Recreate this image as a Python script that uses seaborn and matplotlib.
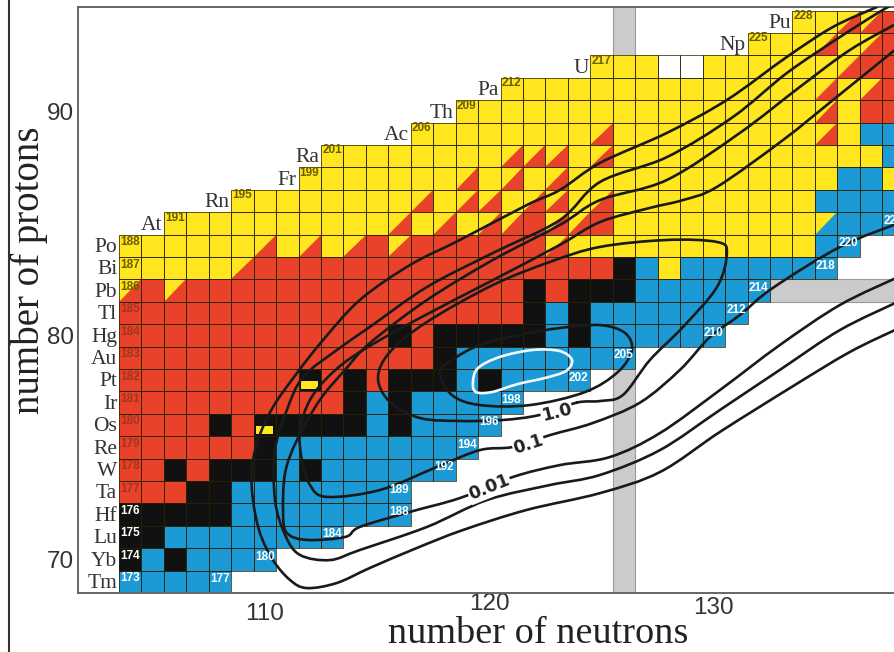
import numpy as np
import pandas as pd
import matplotlib
matplotlib.use("Agg")
import matplotlib.pyplot as plt
from matplotlib.colors import ListedColormap
from matplotlib.patches import Polygon, Rectangle, PathPatch
from matplotlib.collections import PatchCollection
from matplotlib.path import Path
from matplotlib.lines import Line2D
import matplotlib.transforms as mtransforms
import seaborn as sns

sns.set_theme(style="white")
plt.rcParams["font.family"] = ["DejaVu Sans"]

# ---------------------------------------------------------------- nuclide chart
# decay-mode codes, one character per isotope starting at the lightest one:
# y alpha, r beta+/EC, k stable, b beta-, w unknown,
# t alpha + beta+ (split cell), s alpha + beta- (split cell), j stable/long-lived alpha
element_symbols = ["Tm", "Yb", "Lu", "Hf", "Ta", "W", "Re", "Os", "Ir", "Pt", "Au", "Hg", "Tl",
                   "Pb", "Bi", "Po", "At", "Rn", "Fr", "Ra", "Ac", "Th", "Pa", "U", "Np", "Pu"]
proton_numbers = list(range(69, 95))
first_mass = [173, 174, 175, 176, 177, 178, 179, 180, 181, 182, 183, 184, 185,
              186, 187, 188, 191, 195, 199, 201, 206, 209, 212, 217, 225, 228]
row_modes = [
    "bbbbb",                                   # Tm
    "kbkbbbb",                                 # Yb
    "kkbbbbbbbb",                              # Lu
    "kkkkkbbbbbbbb",                           # Hf
    "rrrkkbbbbbbbb",                           # Ta
    "rrkrkkkbkbbbbbb",                         # W
    "rrrrrrkbbbbbbbbb",                        # Re
    "rrrrkrjkkkkbkbbbb",                       # Os
    "rrrrrrrrrrkbkbbbbb",                      # Ir
    "rrrrrrrrjrkrkkkbkbbbb",                   # Pt
    "rrrrrrrrrrrrrrkbbbbbbbb",                 # Au
    "rrrrrrrrrrrrkrkkkkkbkbbbbbb",             # Hg
    "rrrrrrrrrrrrrrrrrrkbkbbbbbbb",            # Tl
    "trtrrrrrrrrrrrrrrrkrkkkbbbbbb",           # Pb
    "yyyyytrrrrrrrrrrrrrrrrkbybbbbbbb",        # Bi
    "yyyyyytytytrtrrrrrrtyyyyyyyyyyybb",       # Po
    "yyyyyyyyyytytyttrttryyyyyyyyysbbb",       # At
    "yyyyyyyytyttyttytyyyyyyyyybbbb",          # Rn
    "yyyyyyytytytyyyyyyyyyyyybbyy",            # Fr
    "yyyyyyyytttytyyyyyyyyyyyyby",             # Ra
    "yyyyyyyytyyyyyyyyytybb",                  # Ac
    "yyyyyyyyyyyyyyyytyrr",                    # Th
    "yyyyyyyyyyyyyytytr",                      # Pa
    "yyywwyyyyyytrr",                          # U
    "yyytytr",                                 # Np
    "yyttr",                                   # Pu
]
# heaviest known isotopes on the neutron-rich side
last_Z = [69, 70, 71, 72, 73, 74, 75, 76, 77, 78, 79, 80, 81, 82, 83, 84, 85]
last_mass = [177, 180, 184, 188, 189, 192, 194, 196, 198, 202, 205, 210, 212, 214, 218, 220, 223]

# ------------------------------------------------------ cross-section contours
# (neutron number, proton number) along each line
contour_white_N = [119.27, 119.49, 120.47, 121.94, 123.14, 123.68, 123.41, 122.48, 121.27, 120.11, 119.40]
contour_white_Z = [77.92, 78.54, 79.04, 79.35, 79.30, 78.90, 78.41, 78.10, 77.83, 77.47, 77.47]

contour_10_N = [117.80, 118.33, 119.58, 121.81, 124.26, 125.73, 126.35, 126.04, 124.93, 123.14, 121.36, 119.58, 118.47]
contour_10_Z = [78.37, 77.34, 76.89, 76.89, 77.47, 78.37, 79.35, 80.11, 80.46, 80.33, 80.02, 79.57, 78.99]

contour_1_N = [123.90, 124.93, 125.95, 127.15, 128.62, 130.14, 130.58, 130.14, 127.91, 124.93, 122.70,
               120.16, 117.22, 115.57, 115.04, 115.57, 116.91, 118.69, 120.56, 122.25]
contour_1_Z = [77.00, 77.07, 77.34, 78.90, 80.37, 82.16, 83.68, 84.17, 84.26, 83.95, 83.28,
               82.25, 80.60, 79.26, 78.10, 77.03, 76.31, 76.18, 76.22, 76.45]

contour_01_N = [138.2, 135.62, 132.63, 131.16, 129.83, 128.49, 126.71, 124.61, 122.70, 121.05, 119.58,
                117.67, 115.13, 112.76, 112.01, 111.65, 111.56, 112.01, 112.90, 114.23, 116.91,
                120.16, 123.14, 124.93, 127.15, 128.62, 130.14, 133.08, 135.31, 138.2]
contour_01_Z = [85.0, 83.95, 82.12, 80.91, 79.93, 78.46, 77.00, 76.09, 75.55, 75.02, 74.88,
                74.13, 73.10, 72.79, 73.32, 74.44, 75.78, 77.12, 78.23, 79.26, 80.78,
                82.47, 84.04, 85.06, 85.69, 86.04, 86.63, 88.72, 90.51, 92.85]

contour_001_N = [138.2, 135.62, 132.94, 130.27, 127.60, 125.37, 123.14, 121.05, 118.69, 116.46, 114.23,
                 113.57, 111.87, 110.98, 110.81, 110.90, 111.43, 112.45, 113.57, 114.68, 117.22,
                 120.16, 123.14, 124.93, 127.91, 131.16, 133.83, 136.06, 138.2]
contour_001_Z = [82.6, 81.36, 79.57, 77.56, 75.64, 74.57, 74.21, 73.68, 72.74, 72.12, 71.45,
                 71.00, 70.87, 71.18, 72.07, 73.86, 75.33, 77.12, 78.46, 79.66, 81.58,
                 83.37, 84.93, 86.04, 86.94, 89.04, 91.09, 92.74, 93.95]

contour_0001_N = [138.2, 135.62, 132.94, 130.27, 127.60, 124.93, 122.70, 119.89, 117.22, 114.23, 112.90,
                  111.56, 110.90, 110.45, 110.45, 110.98, 111.70, 113.21, 114.68, 117.22, 120.16,
                  123.14, 124.93, 127.91, 130.85, 133.25, 135.62, 137.53, 138.2]
contour_0001_Z = [81.5, 80.24, 78.46, 76.67, 74.88, 73.77, 73.32, 72.65, 71.45, 70.42, 69.97,
                  70.20, 71.09, 72.65, 74.88, 76.67, 78.14, 79.35, 80.38, 82.16, 83.68,
                  85.15, 86.85, 87.96, 89.75, 91.71, 93.32, 94.53, 94.85]

contour_00001_N = [138.2, 136.06, 133.39, 130.27, 127.60, 124.93, 121.67, 118.82, 116.77, 114.68, 113.21,
                   111.87, 111.12, 110.36, 109.78, 109.47, 109.42, 109.69, 110.36, 111.43, 112.59,
                   114.23, 116.46, 118.69, 121.67, 123.14, 124.93, 127.91, 130.58, 133.25, 135.31, 137.27]
contour_00001_Z = [80.3, 79.26, 77.65, 75.69, 73.90, 72.96, 72.21, 71.31, 70.51, 69.62, 68.95,
                   68.72, 69.08, 69.97, 71.18, 72.65, 73.99, 75.33, 76.80, 78.32, 79.79,
                   81.58, 83.14, 84.26, 85.82, 86.49, 87.70, 89.04, 90.51, 92.43, 93.77, 94.66]

contour_labels = ["1.0", "0.1", "0.01"]
contour_label_N = [123.0, 121.75, 120.0]
contour_label_Z = [76.55, 75.12, 73.2]
contour_label_angle = [14, 18, 22]

# ---------------------------------------------------------------- colours
YELLOW = "#ffe61e"
RED = "#e8432a"
BLACK = "#111111"
BLUE = "#1c9ad6"
GRAY = "#cbcbcb"
mode_value = {"y": 0, "t": 0, "s": 0, "r": 1, "k": 2, "j": 2, "b": 3, "w": 4}
cmap = ListedColormap([YELLOW, RED, BLACK, BLUE, "#ffffff"])

N_MIN, N_MAX = 104, 138

grid = pd.DataFrame(np.nan, index=proton_numbers, columns=range(N_MIN, N_MAX + 1))
for Z, A0, modes in zip(proton_numbers, first_mass, row_modes):
    N0 = A0 - Z
    for i, m in enumerate(modes):
        grid.loc[Z, N0 + i] = mode_value[m]


def to_xy(N, Z):
    return np.asarray(N) - N_MIN + 0.5, np.asarray(Z) - proton_numbers[0] + 0.5


fig = plt.figure(figsize=(8.95, 6.52), dpi=100)
ax = fig.add_axes([78 / 895, 59 / 652, 817 / 895, 586 / 652])

# magic-number bands N = 126 and Z = 82 under the cells
x126, _ = to_xy(126, 82)
ax.add_patch(Rectangle((x126 - 0.5, -1), 1, 40, facecolor=GRAY, edgecolor="#9a9a9a",
                       lw=0.8, zorder=0.2))
xb, y82 = to_xy(133, 82)
ax.add_patch(Rectangle((xb - 0.5, y82 - 0.5), 20, 1, facecolor=GRAY, edgecolor="#9a9a9a",
                       lw=0.8, zorder=0.2))

sns.heatmap(grid, ax=ax, cmap=cmap, vmin=-0.5, vmax=4.5, cbar=False, mask=grid.isna(),
            linewidths=0, xticklabels=False, yticklabels=False)

# split and marked cells, then the cell outlines
line_rgba = (0.16, 0.13, 0.02, 0.75)
outlines = []
for Z, A0, modes in zip(proton_numbers, first_mass, row_modes):
    N0 = A0 - Z
    for i, m in enumerate(modes):
        x0, y0 = N0 + i - N_MIN, Z - proton_numbers[0]
        outlines.append(Rectangle((x0, y0), 1, 1))
        if m in "ts":
            ax.add_patch(Polygon([(x0, y0), (x0 + 1, y0), (x0 + 1, y0 + 1)], closed=True,
                                 facecolor=RED if m == "t" else BLUE, edgecolor="none", zorder=2))
        elif m == "j":
            ax.add_patch(Rectangle((x0 + 0.12, y0 + 0.12), 0.76, 0.34, facecolor=YELLOW,
                                   edgecolor="none", zorder=2))
ax.add_collection(PatchCollection(outlines, facecolor="none", edgecolor=line_rgba,
                                  linewidth=0.7, zorder=2.1))


def smooth_path(xs, ys, closed=False):
    P = np.column_stack([xs, ys])
    if closed:
        Q = np.vstack([P[-1], P, P[0], P[1]])
    else:
        Q = np.vstack([P[0], P, P[-1]])
    verts, codes = [Q[1]], [Path.MOVETO]
    for i in range(1, len(Q) - 2):
        p0, p1, p2, p3 = Q[i - 1], Q[i], Q[i + 1], Q[i + 2]
        verts += [p1 + (p2 - p0) / 6.0, p2 - (p3 - p1) / 6.0, p2]
        codes += [Path.CURVE4] * 3
    return Path(verts, codes)


lines = [
    (contour_00001_N, contour_00001_Z, False, "#1a1a1a"),
    (contour_0001_N, contour_0001_Z, False, "#1a1a1a"),
    (contour_001_N, contour_001_Z, False, "#1a1a1a"),
    (contour_01_N, contour_01_Z, False, "#1a1a1a"),
    (contour_1_N, contour_1_Z, True, "#1a1a1a"),
    (contour_10_N, contour_10_Z, True, "#1a1a1a"),
    (contour_white_N, contour_white_Z, True, "#f4f8ff"),
]
for Ns, Zs, closed, col in lines:
    x, y = to_xy(Ns, Zs)
    ax.add_patch(PathPatch(smooth_path(x, y, closed), facecolor="none", edgecolor=col,
                           lw=1.9, zorder=4, capstyle="round", joinstyle="round"))

for txt, N, Z, ang in zip(contour_labels, contour_label_N, contour_label_Z, contour_label_angle):
    x, y = to_xy(N, Z)
    ax.text(x, y, txt, rotation=ang, ha="center", va="center", fontsize=12.5,
            fontweight="bold", color="#222222", zorder=5,
            bbox=dict(facecolor="white", edgecolor="none", pad=0.6))

# element symbols and mass numbers
label_color = {"y": "#6b5e00", "t": "#6b5e00", "s": "#6b5e00", "r": "#a8321c",
               "k": "white", "j": "white", "b": "white", "w": "#555555"}
for sym, Z, A0, modes in zip(element_symbols, proton_numbers, first_mass, row_modes):
    N0 = A0 - Z
    x0, y0 = N0 - N_MIN, Z - proton_numbers[0]
    ax.text(x0 - 0.08, y0 + 0.42, sym, ha="right", va="center", fontsize=15.5,
            family="Liberation Serif", color="#333333", zorder=5)
    ax.text(x0 + 0.05, y0 + (0.66 if Z < 85 else 0.76), str(A0), ha="left", va="center",
            fontsize=8.5, family="Liberation Sans", fontweight="bold",
            color=label_color[modes[0]], zorder=5)
for Z, A in zip(last_Z, last_mass):
    N = A - Z
    x0, y0 = N - N_MIN, Z - proton_numbers[0]
    ax.text(x0 + 0.05, y0 + 0.62, str(A), ha="left", va="center", fontsize=8.5,
            family="Liberation Sans", color="white", fontweight="bold", zorder=5, clip_on=True)

ax.set_xlim(-1.826, 34.57)
ax.set_ylim(0, 26.16)

tick_N = [110, 120, 130]
tick_Z = [70, 80, 90]
ax.set_xticks([n - N_MIN + 0.5 for n in tick_N])
ax.set_xticklabels([str(n) for n in tick_N], fontsize=17.5, color="#333333", family="Liberation Sans")
ax.set_yticks([z - proton_numbers[0] + 0.5 for z in tick_Z])
ax.set_yticklabels([str(z) for z in tick_Z], fontsize=17.5, color="#333333", family="Liberation Sans")
ax.tick_params(axis="both", length=0, pad=4)
ax.tick_params(axis="y", pad=3)
# the hand-set neutron labels sit at slightly different heights
for lab, dy in zip(ax.get_xticklabels(), [-4, 6, 2]):
    lab.set_transform(lab.get_transform() + mtransforms.ScaledTranslation(0, dy / 100, fig.dpi_scale_trans))

for side in ["left", "top", "bottom"]:
    ax.spines[side].set_visible(True)
    ax.spines[side].set_color("#666666")
    ax.spines[side].set_linewidth(1.4)
ax.spines["right"].set_visible(False)

fig.text(538 / 895, 9 / 652, "number of neutrons", ha="center", va="baseline",
         fontsize=27.5, family="Liberation Serif", color="#222222")
fig.text(29 / 895, (652 - 270) / 652, "number of protons", ha="center", va="center",
         rotation=90, fontsize=28, family="Liberation Serif", color="#222222")
fig.add_artist(Line2D([9 / 895, 9 / 895], [0, 1], color="#333333", lw=1.5))

fig.savefig("out.png", dpi=100, facecolor="white")
